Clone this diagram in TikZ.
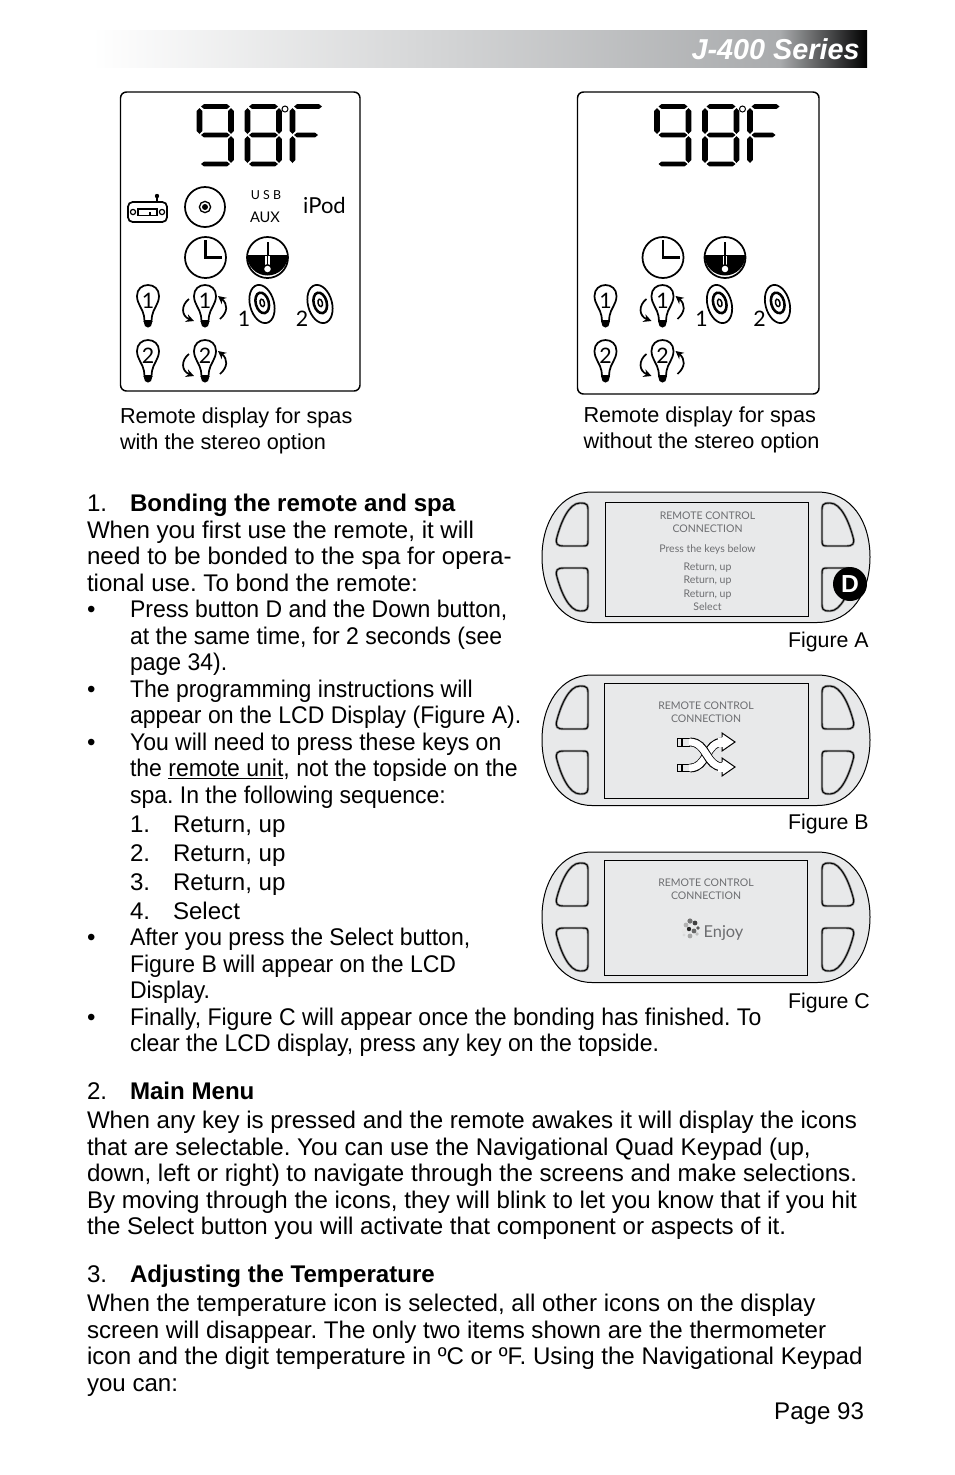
\documentclass[tikz,border=0pt]{standalone}
\usepackage{fontspec}
\setmainfont{Liberation Sans}
\newfontfamily\gill{Lato}
\newfontfamily\narrowbody[FakeStretch=0.955]{Liberation Sans}
\usetikzlibrary{arrows.meta}
\definecolor{panelgray}{HTML}{E8E9EA}
\definecolor{labelgray}{HTML}{6D6E71}
\definecolor{bargray}{HTML}{A9ABAD}
\tikzset{
  x=0.75pt,y=-0.75pt,
  bodytext/.style={anchor=base west,inner sep=0pt,outer sep=0pt,font=\frenchspacing\fontsize{18.07}{20}\selectfont},
  itemtext/.style={anchor=base west,inner sep=0pt,outer sep=0pt,font=\frenchspacing\narrowbody\fontsize{18.07}{20}\selectfont},
  captext/.style={anchor=base west,inner sep=0pt,outer sep=0pt,font=\fontsize{16.25}{20}\selectfont},
  figtext/.style={anchor=base west,inner sep=0pt,outer sep=0pt,font=\fontsize{16}{20}\selectfont},
  lcdtext/.style={anchor=base,inner sep=0pt,outer sep=0pt,font=\gill\fontsize{7.9}{10}\selectfont,text=labelgray},
  icontext/.style={anchor=base,inner sep=0pt,outer sep=0pt,font=\gill\fontsize{15}{18}\selectfont},
  framebox/.style={line width=1.1pt,rounded corners=4.5pt},
  iconline/.style={line width=1.3pt},
  rim/.style={line width=1.8pt,draw=black!45},
  rimcore/.style={line width=0.7pt,draw=black},
}
% --- text helpers
\newcommand{\TL}[3]{\node[bodytext] at (#1,#2) {#3};}
\newcommand{\IL}[3]{\node[itemtext] at (#1,#2) {#3};}
\newcommand{\CL}[3]{\node[captext] at (#1,#2) {#3};}
\newcommand{\FL}[3]{\node[figtext] at (#1,#2) {#3};}
% --- seven segment parts
\newcommand{\SegH}[3]{\fill (#1,#3) -- (#1+3,#3-2.4) -- (#2-3,#3-2.4) -- (#2,#3) -- (#2-3,#3+2.4) -- (#1+3,#3+2.4) -- cycle;}
\newcommand{\SegV}[3]{\fill (#1,#2) -- (#1-2.9,#2+3) -- (#1-2.9,#3-3) -- (#1,#3) -- (#1+2.9,#3-3) -- (#1+2.9,#2+3) -- cycle;}
\newcommand{\NineDigit}{%
  \SegH{4}{33}{1.5}\SegV{2.5}{3}{29}\SegV{34}{3}{29}\SegH{4}{33}{30}\SegV{34}{31}{58}\SegH{4}{33}{59}}
\newcommand{\EightDigit}{%
  \SegH{4}{33}{1.5}\SegV{2.5}{3}{29}\SegV{34}{3}{29}\SegH{4}{33}{30}\SegV{34}{31}{58}\SegV{2.5}{31}{58}\SegH{4}{33}{59}}
\newcommand{\EffDigit}{%
  \SegH{4}{32}{1.5}\SegV{2.5}{3}{29}\SegH{4}{28}{30}\SegV{2.5}{31}{58}}
% --- bulb, origin at its top centre
\newcommand{\Bulb}[3]{%
  \begin{scope}[shift={(#1,#2)}]
    \draw[iconline] (-3.5,36) -- (-4,31) .. controls (-5,24) and (-11,19) .. (-11,11) .. controls (-11,4) and (-6,0) .. (0,0) .. controls (6,0) and (11,4) .. (11,11) .. controls (11,19) and (5,24) .. (4,31) -- (3.5,36) -- cycle;
    \fill (-4.5,36) -- (4.5,36) -- (3,41) .. controls (1,43) and (-1,43) .. (-3,41) -- cycle;
    \node[anchor=base,inner sep=0pt,font=\gill\fontsize{16}{18}\selectfont] at (0,23.5) {#3};
  \end{scope}}
\newcommand{\TurnArrows}[2]{%
  \begin{scope}[shift={(#1,#2)}]
    \draw[iconline,-{Stealth[length=6pt,width=6pt]}] (-16,14) .. controls (-24,20) and (-24,31) .. (-11,36);
    \draw[iconline,-{Stealth[length=6pt,width=6pt]}] (15,34) .. controls (23,27) and (23,19) .. (13,11);
  \end{scope}}
\newcommand{\Disc}[3]{%
  \begin{scope}[shift={(#1,#2)},rotate=15]
    \draw[iconline] (0,0) ellipse [x radius=12,y radius=19.5];
    \draw[line width=1.9pt] (0.5,-1) ellipse [x radius=6.5,y radius=10.5];
    \draw[line width=1.1pt] (0.5,-1) ellipse [x radius=2.2,y radius=3.8];
  \end{scope}
  \node[anchor=base,inner sep=0pt,font=\gill\fontsize{16}{18}\selectfont] at (#1-18,#2+22) {#3};}
% --- everything shared by both displays; #1 = x shift
\newcommand{\SharedDisplay}[1]{%
  \begin{scope}[shift={(#1,0)}]
    \begin{scope}[shift={(197,105)}]\NineDigit\end{scope}
    \begin{scope}[shift={(245,105)}]\EightDigit\end{scope}
    \begin{scope}[shift={(290,105)}]\EffDigit\end{scope}
    \draw[line width=0.75pt] (285,109) circle (3);
    % clock
    \draw[iconline] (205.5,257.5) circle (20.5);
    \draw[line width=1.9pt] (205.5,240) -- (205.5,257.5) -- (222,257.5);
    % thermometer
    \draw[iconline] (267.5,257.5) circle (20.5);
    \fill (247,255) arc[start angle=180,end angle=0,radius=20.5] -- cycle;
    \draw[line width=1.5pt] (267.5,242) -- (267.5,256);
    \draw[line width=3.2pt,white] (267.5,256) -- (267.5,266);
    \draw[line width=1.3pt] (267.5,255) -- (267.5,266);
    \filldraw[fill=white,draw=black,line width=1.1pt] (267.5,269) circle (4.2);
    % bulbs
    \Bulb{148}{285}{1}
    \Bulb{205}{285}{1}
    \TurnArrows{205}{285}
    \Bulb{148}{340}{2}
    \Bulb{205}{340}{2}
    \TurnArrows{205}{340}
    % discs
    \Disc{262}{304}{1}
    \Disc{320}{304}{2}
  \end{scope}}
% --- remote panel: #1 top y, #2 screen x0, #3 screen y0, #4 screen x1, #5 screen y1
\newcommand{\ButtonPath}{(38,11) .. controls (46,11) and (46,13) .. (46,20) -- (46,48) .. controls (46,54) and (45,54) .. (40,54) -- (22,54) .. controls (15,54) and (13,52) .. (15,45) .. controls (19,30) and (27,11) .. (38,11) -- cycle}
\newcommand{\OneButton}[1]{%
  \begin{scope}[#1]
    \draw[rim] \ButtonPath;
    \draw[rimcore] \ButtonPath;
  \end{scope}}
\newcommand{\Remote}[5]{%
  \begin{scope}[shift={(542,#1)}]
    \filldraw[fill=panelgray,draw=black,line width=0.75pt] (50,0) -- (275,0) .. controls (310,0) and (328,30) .. (328,65) .. controls (328,100) and (310,130.5) .. (275,130.5) -- (50,130.5) .. controls (18,130.5) and (0,100) .. (0,65) .. controls (0,30) and (18,0) .. (50,0) -- cycle;
    \OneButton{}
    \OneButton{yshift=-97.5pt,yscale=-1}
    \OneButton{xshift=244.5pt,xscale=-1}
    \OneButton{xshift=244.5pt,xscale=-1,yshift=-97.5pt,yscale=-1}
  \end{scope}
  \filldraw[fill=panelgray,draw=black,line width=0.75pt] (#2,#3) rectangle (#4,#5);}
\begin{document}
\begin{tikzpicture}
\useasboundingbox (0,0) rectangle (954,1475);
\fill[white] (0,0) rectangle (954,1475);
% header bar
\shade[left color=white,right color=bargray] (92,30) rectangle (780,67);
\shade[left color=bargray,right color=black] (780,30) rectangle (867,67);
\node[anchor=base east,inner sep=0pt,font=\fontsize{21.6}{26}\selectfont\bfseries\itshape,text=white] (title) at (860,59) {J-400 Series};
% displays
\draw[framebox] (120.5,92) rectangle (360,391);
\draw[framebox] (577.5,92) rectangle (819,394);
\SharedDisplay{0}
\SharedDisplay{457.5}
% radio
\draw[iconline,rounded corners=3.5pt] (128,202) rectangle (167,222);
\draw[iconline] (157,202) -- (157,197);
\fill (157,196) circle (2.2);
\draw[line width=0.9pt] (133,212) circle (2.6) (162,212) circle (2.6);
\draw[line width=0.9pt] (138,209) rectangle (157,215.5) (150,212) -- (150,215.5);
% cd
\draw[iconline] (205,207) circle (20);
\draw[line width=1pt] (205,207) circle (5.6);
\fill (205,207) circle (3);
% stereo labels
\node[icontext,font=\gill\fontsize{9.3}{12}\selectfont] (usb) at (266,199) {U S B};
\node[icontext,font=\gill\fontsize{11}{13}\selectfont] (aux) at (265,222) {AUX};
\node[icontext,font=\gill\fontsize{16.5}{20}\selectfont] (ipod) at (324.5,213) {iPod};
% captions
\CL{120}{423}{Remote display for spas}
\CL{120}{449}{with the stereo option}
\CL{583.5}{422}{Remote display for spas}
\CL{583.5}{448}{without the stereo option}
% remote A
\Remote{492}{605}{502}{808}{616}
\node[lcdtext] (a1) at (707.5,519) {REMOTE CONTROL};
\node[lcdtext] (a2) at (707.5,532) {CONNECTION};
\node[lcdtext] (a3) at (707.5,552) {Press the keys below};
\node[lcdtext] (a4) at (707.5,570) {Return, up};
\node[lcdtext] (a5) at (707.5,583) {Return, up};
\node[lcdtext] (a6) at (707.5,597) {Return, up};
\node[lcdtext] (a7) at (707.5,610) {Select};
\node[circle,fill=black,minimum size=25.5pt,inner sep=0pt,text=white,font=\fontsize{18.5}{20}\selectfont\bfseries] (dbadge) at (850,584) {D};
\FL{788}{647}{Figure A}
% remote B
\Remote{675}{604}{683}{808}{798}
\node[lcdtext] (b1) at (706,709) {REMOTE CONTROL};
\node[lcdtext] (b2) at (706,722) {CONNECTION};
% swap icon
\draw[line width=0.7pt] (677.5,738.5) rectangle (681,746) (682,738.5) rectangle (689.5,746);
\draw[line width=0.7pt] (677.5,764) rectangle (681,771.5) (682,764) rectangle (689.5,771.5);
\draw[line width=6.6pt] (690,768) .. controls (708,768) and (705,742) .. (723,742);
\draw[line width=5.2pt,white] (689,768) .. controls (708,768) and (705,742) .. (724,742);
\filldraw[fill=white,draw=black,line width=0.75pt,line join=miter] (722,737) -- (722,733) -- (735,742) -- (722,751) -- (722,747);
\fill[white] (718,737.5) rectangle (723.5,746.5);
\draw[line width=6.6pt] (690,742) .. controls (708,742) and (705,767) .. (723,767);
\draw[line width=5.2pt,white] (689,742) .. controls (708,742) and (705,767) .. (724,767);
\filldraw[fill=white,draw=black,line width=0.75pt,line join=miter] (722,762) -- (722,758) -- (735,767) -- (722,776) -- (722,772);
\fill[white] (718,762.5) rectangle (723.5,771.5);
\FL{788}{829}{Figure B}
% remote C
\Remote{852}{604}{860}{807}{975}
\node[lcdtext] (c1) at (706,886) {REMOTE CONTROL};
\node[lcdtext] (c2) at (706,899) {CONNECTION};
\foreach \px/\py/\pr/\pc in {690/921/2.6/55,695/923/2.4/75,686/925/2.4/30,698/928/1.9/65,684/931/2.4/10,689/929/2.2/85,694/931/2.4/60,690/936/2.4/35,697/934/1.9/25,684/935/1.7/15}
  \fill[black!\pc] (\px,\py) circle (\pr);
\node[anchor=base,inner sep=0pt,font=\gill\fontsize{12.3}{14}\selectfont,text=labelgray] (enjoy) at (723.5,937) {Enjoy};
\FL{788}{1008}{Figure C}
% body text
\TL{87}{511}{1.}\TL{130}{511}{\bfseries Bonding the remote and spa}
\TL{87}{538}{When you first use the remote, it will}
\TL{87}{564}{need to be bonded to the spa for opera-}
\TL{87}{591}{tional use. To bond the remote:}
\TL{87}{617}{•}\IL{130}{617}{Press button D and the Down button,}
\IL{130}{644}{at the same time, for 2 seconds (see}
\IL{130}{670}{page 34).}
\TL{87}{697}{•}\IL{130}{697}{The programming instructions will}
\IL{130}{723}{appear on the LCD Display (Figure A).}
\TL{87}{750}{•}\IL{130}{750}{You will need to press these keys on}
\IL{130}{776}{the \underline{remote unit}, not the topside on the}
\IL{130}{803}{spa. In the following sequence:}
\TL{130}{832}{1.}\TL{173}{832}{Return, up}
\TL{130}{861}{2.}\TL{173}{861}{Return, up}
\TL{130}{890}{3.}\TL{173}{890}{Return, up}
\TL{130}{919}{4.}\TL{173}{919}{Select}
\TL{87}{945}{•}\IL{130}{945}{After you press the Select button,}
\IL{130}{972}{Figure B will appear on the LCD}
\IL{130}{998}{Display.}
\TL{87}{1025}{•}\IL{130}{1025}{Finally, Figure C will appear once the bonding has finished. To}
\IL{130}{1051}{clear the LCD display, press any key on the topside.}
\TL{87}{1099}{2.}\TL{130}{1099}{\bfseries Main Menu}
\TL{87}{1128}{When any key is pressed and the remote awakes it will display the icons}
\TL{87}{1155}{that are selectable. You can use the Navigational Quad Keypad (up,}
\TL{87}{1181}{down, left or right) to navigate through the screens and make selections.}
\TL{87}{1208}{By moving through the icons, they will blink to let you know that if you hit}
\TL{87}{1234}{the Select button you will activate that component or aspects of it.}
\TL{87}{1282}{3.}\TL{130}{1282}{\bfseries Adjusting the Temperature}
\TL{87}{1311}{When the temperature icon is selected, all other icons on the display}
\TL{87}{1338}{screen will disappear. The only two items shown are the thermometer}
\TL{87}{1364}{icon and the digit temperature in ºC or ºF. Using the Navigational Keypad}
\TL{87}{1391}{you can:}
\node[bodytext,anchor=base east] (pagenum) at (864,1419) {Page 93};
\end{tikzpicture}
\end{document}
